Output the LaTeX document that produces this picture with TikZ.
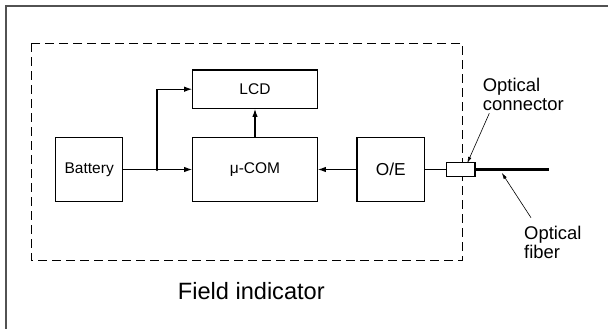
\documentclass[tikz,border=0pt]{standalone}
\usepackage{fontspec}
\setmainfont{Liberation Sans}
\usetikzlibrary{arrows.meta}

\begin{document}
\begin{tikzpicture}[x=1pt, y=-1pt,
    blockbox/.style={draw, line width=1.2pt, inner sep=0pt, fill=white,
      font=\fontsize{15.5}{18}\selectfont},
    flow/.style={line width=1.1pt, -{Latex[length=8pt,width=5.5pt]}},
    pointer/.style={line width=0.6pt, -{Latex[length=6.5pt,width=3.5pt]}},
    callout/.style={align=left, inner sep=0pt, anchor=west,
      font=\fontsize{18.4}{19}\selectfont}]
    \useasboundingbox (0,0) rectangle (608,329);

    %% outer frame
    \draw[line width=2pt, color=black!68] (6,6) rectangle (614,335);

    %% the field indicator housing
    \draw[line width=1.2pt, dash pattern=on 9pt off 5pt]
      (31.8,43.3) rectangle (462.6,260.7);
    \node[font=\fontsize{23.6}{26}\selectfont] (title) at (251.3,291)
      {Field indicator};

    %% blocks
    \node[blockbox, minimum width=67pt, minimum height=63.5pt]
      (battery) at (89.2,169.5) {Battery};
    \node[blockbox, minimum width=124.6pt, minimum height=38.3pt]
      (lcd) at (255,89.2) {LCD};
    \node[blockbox, minimum width=124.6pt, minimum height=63.5pt]
      (mucom) at (255,169.5) {μ-COM};
    \node[blockbox, minimum width=67.7pt, minimum height=63.5pt,
      font=\fontsize{17.3}{20}\selectfont] (oe) at (390.8,169.5) {O/E};

    %% power and signal paths
    \coordinate (split) at (157,169.5);
    \draw[line width=1.1pt] (battery.east) -- (split);
    \fill (split) circle (1.7pt);
    \draw[flow] (split) -- (mucom.west);
    \draw[flow] (split) |- (lcd.west);
    \draw[flow] (mucom.north) -- (lcd.south);
    \draw[flow] (oe.west) -- (mucom.east);

    %% optical connector and fiber
    \node[draw, line width=1.2pt, fill=white, inner sep=0pt,
      minimum width=28.3pt, minimum height=13.4pt] (optconn) at (460.8,169.5) {};
    \coordinate (fiberend) at (549,169.5);
    \draw[line width=1.1pt] (oe.east) -- (optconn.west);
    \draw[line width=2.6pt] (optconn.east) -- (fiberend);

    %% labels
    \node[callout] (connlabel) at (482.7,94.5) {Optical\\connector};
    \node[callout] (fiberlabel) at (524,242) {Optical\\fiber};
    \coordinate (conntail) at (489.3,113.3);
    \coordinate (conntip) at (467.2,163.3);
    \coordinate (fibertail) at (531,217.7);
    \coordinate (fibertip) at (501.7,172.7);
    \draw[pointer] (conntail) -- (conntip);
    \draw[pointer] (fibertail) -- (fibertip);
  \end{tikzpicture}
\end{document}
